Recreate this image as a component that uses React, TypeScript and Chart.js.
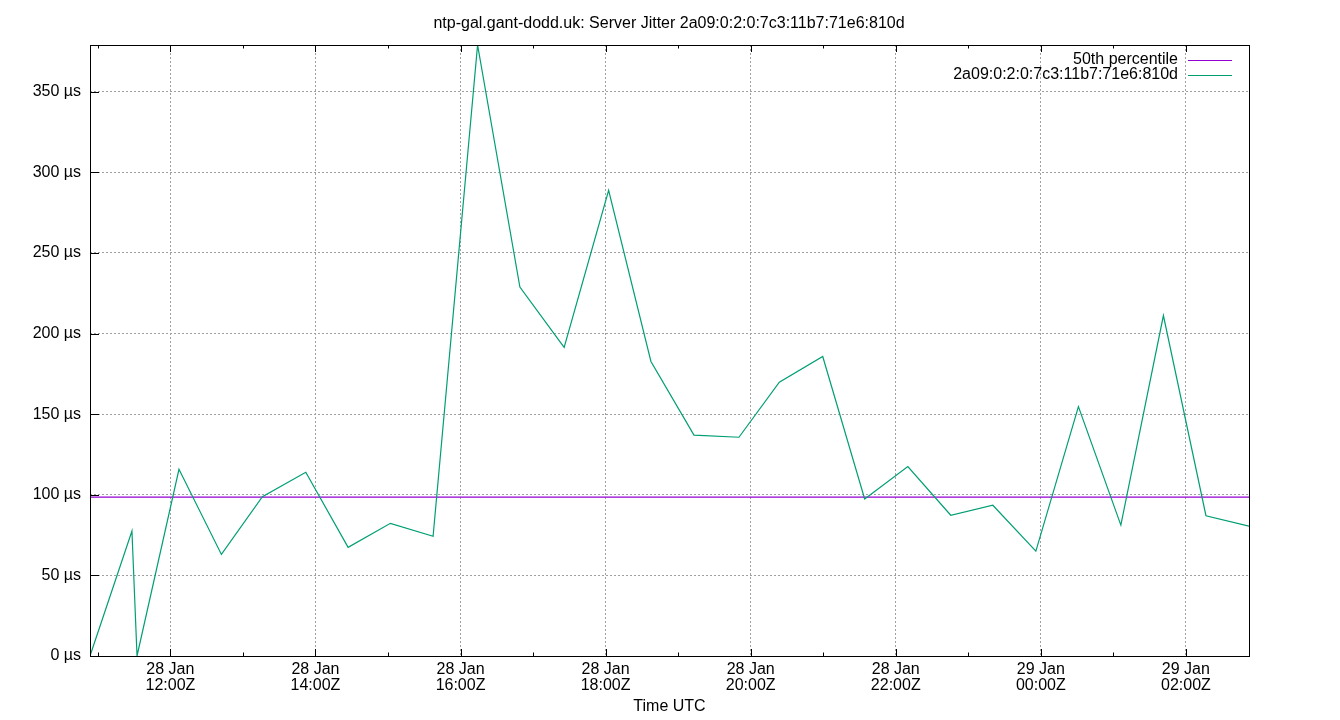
import React, { useEffect, useRef } from "react";
import { Chart, registerables } from "chart.js";

Chart.register(...registerables);

// Time of each sample, minutes since 28 Jan 00:00 UTC (values > 1440 are on 29 Jan)
const sampleMinutes = [
  653.5, 688.2, 692.4, 727.1, 762.2, 796.1, 832.0, 867.0, 902.0, 937.3,
  974.1, 1009.1, 1045.7, 1082.5, 1117.5, 1153.1, 1190.3, 1223.7, 1259.6, 1294.3,
  1330.0, 1365.5, 1400.3, 1435.9, 1471.1, 1506.2, 1541.4, 1576.6, 1612.2,
];
// Server jitter in microseconds
const jitterUs = [
  0, 77.5, 0, 115.8, 63.0, 98.8, 114.0, 67.4, 82.3, 74.3,
  379.0, 228.9, 191.4, 288.9, 182.7, 137.0, 135.7, 169.8, 185.8, 97.4,
  117.5, 87.3, 93.5, 65.1, 154.7, 81.2, 211.2, 87.0, 80.6,
];
const percentile50Us = 98.6;

const titleText = "ntp-gal.gant-dodd.uk: Server Jitter 2a09:0:2:0:7c3:11b7:71e6:810d";
const seriesLabel = "2a09:0:2:0:7c3:11b7:71e6:810d";
const percentileLabel = "50th percentile";
const xAxisTitle = "Time UTC";
const yTickValues = [0, 50, 100, 150, 200, 250, 300, 350];
const xTickValues = [660, 720, 780, 840, 900, 960, 1020, 1080, 1140, 1200, 1260, 1320, 1380, 1440, 1500, 1560];

const FONT = "'Liberation Sans', Arial, sans-serif";
const FS = 16;

function pad2(n: number) {
  return n < 10 ? "0" + n : "" + n;
}
function xLabel(v: number): string[] | string {
  if (v % 120 !== 0) return "";
  const day = v >= 1440 ? 29 : 28;
  const h = Math.floor((v % 1440) / 60);
  return [day + " Jan", pad2(h) + ":00Z"];
}

const gnuplotPlugin = {
  id: "gnuplotDecor",
  afterDraw(chart: any) {
    const { ctx, chartArea } = chart;
    const { left, right, top, bottom } = chartArea;
    const xs = chart.scales.x;
    const ys = chart.scales.y;
    ctx.save();
    ctx.strokeStyle = "#000";
    ctx.lineWidth = 1;
    ctx.setLineDash([]);
    // frame
    ctx.strokeRect(Math.round(left) + 0.5, Math.round(top) + 0.5, Math.round(right) - Math.round(left), Math.round(bottom) - Math.round(top));
    // x ticks (bottom & top, inward)
    ctx.beginPath();
    xs.ticks.forEach((t: any) => {
      const px = Math.round(xs.getPixelForValue(t.value)) + 0.5;
      const len = t.value % 120 === 0 ? 7 : 3.5;
      ctx.moveTo(px, bottom);
      ctx.lineTo(px, bottom - len);
      ctx.moveTo(px, top);
      ctx.lineTo(px, top + len);
    });
    // y ticks (left, inward)
    ys.ticks.forEach((t: any) => {
      const py = Math.round(ys.getPixelForValue(t.value)) + 0.5;
      ctx.moveTo(left, py);
      ctx.lineTo(left + 9, py);
    });
    ctx.stroke();

    // title
    ctx.fillStyle = "#000";
    ctx.font = `${FS}px ${FONT}`;
    ctx.textAlign = "center";
    ctx.textBaseline = "alphabetic";
    ctx.fillText(titleText, chart.width / 2 - 1, 28);

    // legend (gnuplot style: text then line sample, top right inside plot)
    const dsList = [...chart.data.datasets].sort((a: any, b: any) => (a.legendRank ?? 0) - (b.legendRank ?? 0));
    ctx.textAlign = "right";
    ctx.textBaseline = "middle";
    dsList.forEach((ds: any, i: number) => {
      const y = 60 + i * 15;
      ctx.fillStyle = "#000";
      ctx.fillText(ds.label, right - 71, y);
      ctx.strokeStyle = ds.borderColor;
      ctx.beginPath();
      ctx.moveTo(right - 61, Math.round(y) + 0.5);
      ctx.lineTo(right - 17, Math.round(y) + 0.5);
      ctx.stroke();
    });
    ctx.restore();
  },
};

export default function App() {
  const canvasRef = useRef<HTMLCanvasElement | null>(null);

  useEffect(() => {
    document.body.style.margin = "0";
    const canvas = canvasRef.current;
    if (!canvas) return;
    const xMin = sampleMinutes[0];
    const xMax = sampleMinutes[sampleMinutes.length - 1];
    const yMax = Math.max(...jitterUs);

    const chart = new Chart(canvas, {
      type: "line",
      data: {
        datasets: [
          {
            label: percentileLabel,
            legendRank: 0,
            data: [
              { x: xMin, y: percentile50Us },
              { x: xMax, y: percentile50Us },
            ],
            borderColor: "#9400d3",
            borderWidth: 1.2,
            pointRadius: 0,
            tension: 0,
            order: 2,
          } as any,
          {
            label: seriesLabel,
            legendRank: 1,
            data: sampleMinutes.map((m, i) => ({ x: m, y: jitterUs[i] })),
            borderColor: "#009e73",
            borderWidth: 1.2,
            pointRadius: 0,
            tension: 0,
            order: 1,
          } as any,
        ],
      },
      options: {
        animation: false,
        responsive: false,
        maintainAspectRatio: false,
        devicePixelRatio: 1,
        layout: { padding: { top: 45, right: 91, left: 0, bottom: 0 } },
        plugins: {
          legend: { display: false },
          title: { display: false },
          tooltip: { enabled: false },
        },
        scales: {
          x: {
            type: "linear",
            min: xMin,
            max: xMax,
            afterBuildTicks: (scale: any) => {
              scale.ticks = xTickValues.map((v) => ({ value: v }));
            },
            afterFit: (scale: any) => {
              scale.height = 64;
            },
            ticks: {
              autoSkip: false,
              maxRotation: 0,
              padding: 6,
              color: "#000",
              font: { family: FONT, size: FS, lineHeight: 0.98 },
              callback: (v: any) => xLabel(Number(v)),
            },
            grid: {
              drawTicks: false,
              lineWidth: 1,
              color: (c: any) => (c.tick && c.tick.value % 120 === 0 ? "#a0a0a0" : "rgba(0,0,0,0)"),
            },
            border: { display: false, dash: [2, 2] },
            title: {
              display: true,
              text: xAxisTitle,
              color: "#000",
              font: { family: FONT, size: FS, lineHeight: 1.2 },
              padding: { top: 0, bottom: 4 },
            },
          },
          y: {
            type: "linear",
            min: 0,
            max: yMax,
            afterBuildTicks: (scale: any) => {
              scale.ticks = yTickValues.map((v) => ({ value: v }));
            },
            afterFit: (scale: any) => {
              scale.width = 90;
            },
            ticks: {
              padding: 9,
              color: "#000",
              font: { family: FONT, size: FS },
              callback: (v: any) => `${v} µs`,
            },
            grid: {
              drawTicks: false,
              lineWidth: 1,
              color: "#a0a0a0",
            },
            border: { display: false, dash: [2, 2] },
          },
        },
      } as any,
      plugins: [gnuplotPlugin],
    });
    return () => chart.destroy();
  }, []);

  return (
    <div style={{ width: 1340, height: 720, background: "#fff" }}>
      <canvas ref={canvasRef} width={1340} height={720} style={{ display: "block", width: 1340, height: 720 }} />
    </div>
  );
}
